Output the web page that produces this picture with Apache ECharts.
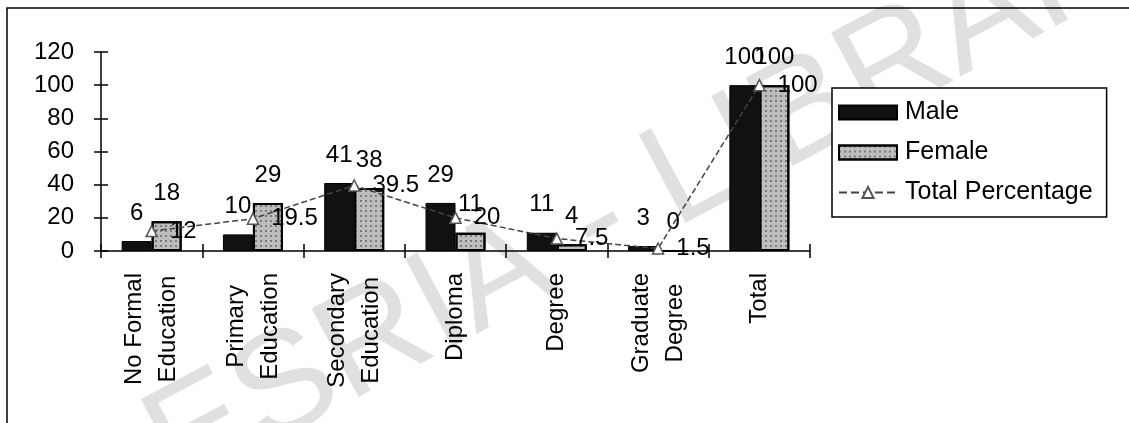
<!DOCTYPE html>
<html><head><meta charset="utf-8">
<script src="https://cdn.jsdelivr.net/npm/echarts@6/dist/echarts.min.js"></script>
<style>html,body{margin:0;padding:0;background:#fff}#c{width:1129px;height:423px}</style>
</head><body><div id="c"></div>
<script>
const categories = ['No Formal\nEducation', 'Primary\nEducation', 'Secondary\nEducation', 'Diploma', 'Degree', 'Graduate\nDegree', 'Total'];
const male = [6, 10, 41, 29, 11, 3, 100];
const female = [18, 29, 38, 11, 4, 0, 100];
const totalPct = [12, 19.5, 39.5, 20, 7.5, 1.5, 100];
const yMin = 0, yMax = 120, yStep = 20;
const seriesNames = ['Male', 'Female', 'Total Percentage'];
const watermark = 'CODESRIA - LIBRARY';

const FONT = 'Liberation Sans, Arial, sans-serif';
const chart = echarts.init(document.getElementById('c'));
const labelFmt = v => String(v).split('\n').map(s => '{c|' + s + '}').join('\n');

const yBase = { type: 'value', min: yMin, max: yMax, interval: yStep, splitLine: { show: false } };
const xBase = { type: 'category', data: categories, boundaryGap: true };

chart.setOption({
  animation: false,
  backgroundColor: '#fff',
  grid: { left: 101, right: 319, top: 52, bottom: 172, containLabel: false },
  graphic: [
    { type: 'text', x: 538, y: 256, rotation: 28 * Math.PI / 180, z: 0, silent: true,
      style: { text: watermark, font: '145px "Liberation Sans"', fill: '#e0e0e0', align: 'center', verticalAlign: 'middle' } },
    { type: 'rect', z: 100, silent: true, shape: { x: 7, y: 8, width: 1160, height: 440 },
      style: { fill: 'none', stroke: '#000', lineWidth: 1.5 } }
  ],
  legend: {
    orient: 'vertical', left: 832, top: 88,
    padding: [12, 14, 12, 6], itemWidth: 58, itemHeight: 14, itemGap: 15,
    borderColor: '#000', borderWidth: 1.5, backgroundColor: '#fff',
    textStyle: { fontSize: 25, fontFamily: FONT, color: '#000', padding: [0, 0, 0, 3] },
    data: [{ name: seriesNames[0], icon: 'rect' }, { name: seriesNames[1], icon: 'rect' }, { name: seriesNames[2] }]
  },
  xAxis: [
    Object.assign({}, xBase, {
      axisLine: { show: true, lineStyle: { color: '#000', width: 1.5 } },
      axisTick: { show: true, length: 7, lineStyle: { color: '#000', width: 1.5 } },
      axisLabel: { rotate: 90, margin: 22, interval: 0, formatter: labelFmt, color: '#000',
        rich: { c: { fontSize: 24, fontFamily: FONT, color: '#000', align: 'center', lineHeight: 34 } } }
    }),
    Object.assign({}, xBase, { position: 'bottom',
      axisLine: { show: false },
      axisTick: { show: true, inside: true, length: 7, lineStyle: { color: '#000', width: 1.5 } },
      axisLabel: { show: false } })
  ],
  yAxis: [
    Object.assign({}, yBase, {
      axisLine: { show: true, lineStyle: { color: '#000', width: 1.5 } },
      axisTick: { show: true, length: 7, lineStyle: { color: '#000', width: 1.5 } },
      axisLabel: { margin: 27, fontSize: 24, fontFamily: FONT, color: '#000' }
    }),
    Object.assign({}, yBase, { position: 'left',
      axisLine: { show: false },
      axisTick: { show: true, inside: true, length: 7, lineStyle: { color: '#000', width: 1.5 } },
      axisLabel: { show: false } })
  ],
  series: [
    { name: seriesNames[0], type: 'bar', data: male, barWidth: 30, barGap: '0%',
      itemStyle: { color: '#111', borderColor: '#000', borderWidth: 1 },
      label: { show: true, position: 'top', distance: 16, fontSize: 24, fontFamily: FONT, color: '#000' } },
    { name: seriesNames[1], type: 'bar', data: female, barWidth: 30,
      itemStyle: { color: '#bdbdbd', borderColor: '#000', borderWidth: 2,
        decal: { symbol: 'rect', symbolSize: 1, color: 'rgba(0,0,0,0.35)', dashArrayX: [2, 3], dashArrayY: [2, 3], rotation: 0 } },
      label: { show: true, position: 'top', distance: 16, fontSize: 24, fontFamily: FONT, color: '#000' } },
    { name: seriesNames[2], type: 'line', data: totalPct, z: 5,
      symbol: 'triangle', symbolSize: 11,
      itemStyle: { color: '#fff', borderColor: '#555', borderWidth: 1.5 },
      lineStyle: { color: '#444', type: 'dashed', width: 1.5 },
      label: { show: true, position: 'right', distance: 12, fontSize: 24, fontFamily: FONT, color: '#000' } }
  ]
});
</script></body></html>
